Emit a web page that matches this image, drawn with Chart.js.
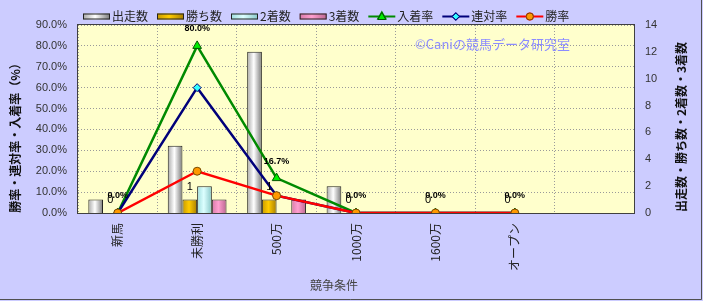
<!DOCTYPE html>
<html><head><meta charset="utf-8">
<script src="https://cdn.jsdelivr.net/npm/chart.js@4/dist/chart.umd.min.js"></script>
<style>html,body{margin:0;padding:0;background:#ccccff;}canvas{display:block;}</style>
</head><body>
<canvas id="c" width="703" height="301"></canvas>
<script>
// ---- data ----
const categories = ['新馬', '未勝利', '500万', '1000万', '1600万', 'オープン', ''];
const starters   = [1, 5, 12, 2, 0, 0, null];   // 出走数
const wins       = [0, 1, 1, 0, 0, 0, null];    // 勝ち数
const seconds    = [0, 2, 0, 0, 0, 0, null];    // 2着数
const thirds     = [0, 1, 1, 0, 0, 0, null];    // 3着数
const placeRate    = [0, 80, 16.7, 0, 0, 0, null]; // 入着率 (%)
const quinellaRate = [0, 60, 8.3, 0, 0, 0, null];  // 連対率 (%)
const winRate      = [0, 20, 8.3, 0, 0, 0, null];  // 勝率 (%)
const leftAxisMax = 90, leftAxisStep = 10;
const rightAxisMax = 14, rightAxisStep = 2;
const seriesNames = ['出走数', '勝ち数', '2着数', '3着数', '入着率', '連対率', '勝率'];
const leftTitle = '勝率・連対率・入着率（%）';
const rightTitle = '出走数・勝ち数・2着数・3着数';
const xTitle = '競争条件';
const watermark = '©Caniの競馬データ研究室';

// ---- styles ----
const CJK = '"Noto Sans CJK JP", "Noto Sans", sans-serif';
const LAT = '"Liberation Sans", Arial, sans-serif';
const CAT_PCT = 0.74;
const barStops = [
  ['#a8a8a8', '#ffffff', '#7a7a7a'],
  ['#c89a00', '#ffcc00', '#a87e00'],
  ['#9fdede', '#ddffff', '#88c8c8'],
  ['#d77aa8', '#ff9fcf', '#bb6690']
];
function barGrad(k) {
  const stops = barStops[k];
  return (c) => {
    const chart = c.chart, xs = chart.scales && chart.scales.x;
    if (!xs || c.dataIndex == null || !chart.chartArea) return stops[1];
    const cw = xs.width / categories.length;
    const bw = cw * CAT_PCT / 4;
    const cx = xs.getPixelForValue(c.dataIndex) + (k - 1.5) * bw;
    const g = chart.ctx.createLinearGradient(cx - bw / 2, 0, cx + bw / 2, 0);
    g.addColorStop(0, stops[0]); g.addColorStop(0.45, stops[1]); g.addColorStop(1, stops[2]);
    return g;
  };
}
const barData = [starters, wins, seconds, thirds];
const datasets = barData.map((d, k) => ({
  type: 'bar', label: seriesNames[k], data: d, yAxisID: 'y2',
  backgroundColor: barGrad(k), borderColor: '#222', borderWidth: 1,
  categoryPercentage: CAT_PCT, barPercentage: 1.0, order: 10
}));
const lineDefs = [
  {data: placeRate, color: '#008a00', pt: 'triangle', fill: '#00ee00', pb: '#005500', r: 5, order: 3},
  {data: quinellaRate, color: '#00007a', pt: 'rectRot', fill: '#33ffff', pb: '#00007a', r: 4, order: 2},
  {data: winRate, color: '#ff0000', pt: 'circle', fill: '#ff9900', pb: '#7a4a00', r: 4, order: 1}
];
lineDefs.forEach((l, i) => datasets.push({
  type: 'line', label: seriesNames[4 + i], data: l.data, yAxisID: 'y',
  borderColor: l.color, borderWidth: 2.5, pointStyle: l.pt, pointRadius: l.r,
  pointBackgroundColor: l.fill, pointBorderColor: l.pb, pointBorderWidth: 1,
  tension: 0, spanGaps: false, order: l.order
}));

const deco = {
  id: 'deco',
  beforeDraw(chart) {
    const {ctx, chartArea: a} = chart;
    ctx.save();
    ctx.fillStyle = '#ccccff'; ctx.fillRect(0, 0, chart.width, chart.height);
    ctx.fillStyle = '#ffffcc'; ctx.fillRect(a.left, a.top, a.right - a.left, a.bottom - a.top);
    ctx.restore();
  },
  beforeDatasetsDraw(chart) {
    const {ctx, chartArea: a} = chart;
    ctx.save();
    ctx.font = '13px ' + CJK; ctx.fillStyle = '#8c8cff';
    ctx.textAlign = 'left'; ctx.textBaseline = 'middle';
    ctx.fillText(watermark, 415, 44);
    ctx.strokeStyle = '#404040'; ctx.lineWidth = 1;
    ctx.strokeRect(Math.round(a.left) - 0.5, Math.round(a.top) - 0.5, Math.round(a.right - a.left) + 1, Math.round(a.bottom - a.top) + 1);
    ctx.restore();
  },
  afterDatasetsDraw(chart) {
    const {ctx} = chart;
    ctx.save();
    ctx.textAlign = 'center'; ctx.textBaseline = 'middle'; ctx.fillStyle = '#000';
    // 勝ち数 labels
    const winMeta = chart.getDatasetMeta(1);
    ctx.font = '11px ' + LAT;
    winMeta.data.forEach((el, i) => {
      if (wins[i] == null) return;
      ctx.fillText(String(wins[i]), el.x, el.y - 13);
    });
    // 入着率 labels
    const pMeta = chart.getDatasetMeta(4);
    ctx.font = 'bold 9px ' + LAT;
    pMeta.data.forEach((el, i) => {
      if (placeRate[i] == null) return;
      ctx.fillText(placeRate[i].toFixed(1) + '%', el.x, el.y - 17);
    });
    ctx.restore();
  },
  afterDraw(chart) {
    const {ctx, chartArea: a} = chart;
    ctx.save();
    // legend
    ctx.font = '12px ' + CJK; ctx.textBaseline = 'middle'; ctx.textAlign = 'left';
    let x = 83; const ly = 16.5;
    seriesNames.forEach((name, i) => {
      if (i < 4) {
        const s = barStops[i];
        const g = ctx.createLinearGradient(x, 0, x + 27, 0);
        g.addColorStop(0, s[0]); g.addColorStop(0.45, s[1]); g.addColorStop(1, s[2]);
        ctx.fillStyle = g; ctx.fillRect(x, ly - 3, 27, 6);
        ctx.strokeStyle = '#222'; ctx.lineWidth = 1; ctx.strokeRect(x + 0.5, ly - 2.5, 26, 5);
      } else {
        const l = lineDefs[i - 4];
        ctx.strokeStyle = l.color; ctx.lineWidth = 2;
        ctx.beginPath(); ctx.moveTo(x, ly); ctx.lineTo(x + 27, ly); ctx.stroke();
        Chart.helpers.drawPoint(ctx, {pointStyle: l.pt, radius: l.r - 1, borderWidth: 1}, x + 13.5, ly);
        ctx.fillStyle = l.fill; ctx.strokeStyle = l.pb; ctx.lineWidth = 1;
        ctx.beginPath();
        if (l.pt === 'circle') { ctx.arc(x + 13.5, ly, 3.5, 0, Math.PI * 2); }
        else if (l.pt === 'rectRot') { ctx.moveTo(x + 13.5, ly - 3.5); ctx.lineTo(x + 17, ly); ctx.lineTo(x + 13.5, ly + 3.5); ctx.lineTo(x + 10, ly); ctx.closePath(); }
        else { ctx.moveTo(x + 13.5, ly - 4); ctx.lineTo(x + 17.5, ly + 3); ctx.lineTo(x + 9.5, ly + 3); ctx.closePath(); }
        ctx.fill(); ctx.stroke();
      }
      ctx.fillStyle = '#222';
      ctx.fillText(name, x + 29, ly);
      x += 29 + ctx.measureText(name).width + 9;
    });
    // axis titles
    ctx.font = 'bold 12px ' + CJK; ctx.fillStyle = '#111'; ctx.textAlign = 'center';
    ctx.save(); ctx.translate(15, 135); ctx.rotate(-Math.PI / 2); ctx.fillText(leftTitle, 0, 0); ctx.restore();
    ctx.save(); ctx.translate(681, 127); ctx.rotate(-Math.PI / 2); ctx.fillText(rightTitle, 0, 0); ctx.restore();
    ctx.font = '12px ' + CJK; ctx.fillStyle = '#444';
    ctx.fillText(xTitle, 334, 285);
    // outer frame
    ctx.strokeStyle = '#505050'; ctx.lineWidth = 1;
    ctx.beginPath(); ctx.moveTo(701.5, 0); ctx.lineTo(701.5, 299.5); ctx.lineTo(0, 299.5); ctx.stroke();
    ctx.restore();
  }
};

const chart = new Chart(document.getElementById('c'), {
  type: 'bar',
  data: {labels: categories, datasets},
  options: {
    responsive: false, animation: false, devicePixelRatio: 1,
    layout: {padding: {top: 25, left: 0, right: 0, bottom: 0}},
    plugins: {legend: {display: false}, tooltip: {enabled: false}},
    scales: {
      x: {
        offset: true,
        grid: {offset: true, color: '#9a9a9a', drawTicks: false, lineWidth: 1},
        border: {display: false, dash: [1, 2]},
        ticks: {autoSkip: false, maxRotation: 90, minRotation: 90, padding: 10,
                font: {size: 12, family: CJK}, color: '#222'},
        afterFit(s) { s.height = 88; }
      },
      y: {
        position: 'left', min: 0, max: leftAxisMax,
        grid: {color: '#9a9a9a', drawTicks: false},
        border: {display: false, dash: [1, 2]},
        ticks: {stepSize: leftAxisStep, padding: 11, color: '#333',
                font: {size: 11, family: LAT},
                callback: (v) => Number(v).toFixed(1) + '%'},
        afterFit(s) { s.width = 78; }
      },
      y2: {
        position: 'right', min: 0, max: rightAxisMax,
        grid: {display: false, drawTicks: false},
        border: {display: false},
        ticks: {stepSize: rightAxisStep, padding: 11, color: '#333', font: {size: 11, family: LAT}},
        afterFit(s) { s.width = 69; }
      }
    }
  },
  plugins: [deco]
});
chart.update('none');
</script>
</body></html>
